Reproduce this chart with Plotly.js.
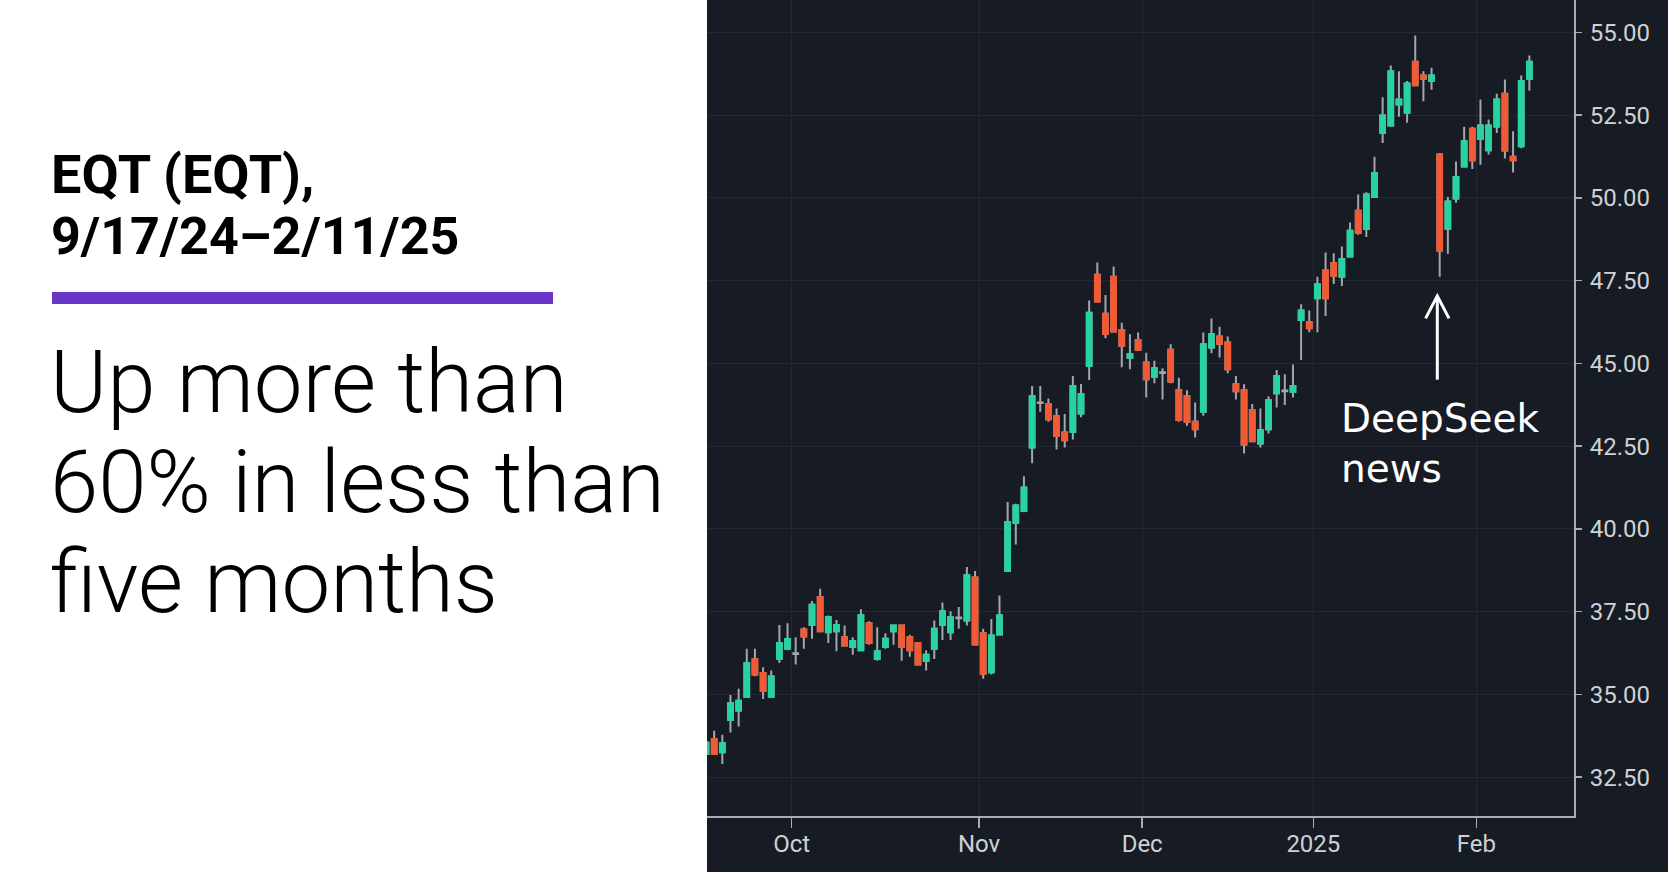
<!DOCTYPE html>
<html>
<head>
<meta charset="utf-8">
<script src="https://cdn.plot.ly/plotly-3.0.1.min.js"></script>
<style>
html,body{margin:0;padding:0;background:#ffffff;overflow:hidden}
#chart{width:1668px;height:872px}
</style>
</head>
<body>
<div id="chart"></div>
<script>
// ---------- data ----------
const dates = [
'2024-09-16','2024-09-17','2024-09-18','2024-09-19','2024-09-20','2024-09-23','2024-09-24','2024-09-25','2024-09-26','2024-09-27','2024-09-30',
'2024-10-01','2024-10-02','2024-10-03','2024-10-04','2024-10-07','2024-10-08','2024-10-09','2024-10-10','2024-10-11','2024-10-14','2024-10-15','2024-10-16','2024-10-17','2024-10-18','2024-10-21','2024-10-22','2024-10-23','2024-10-24','2024-10-25','2024-10-28','2024-10-29','2024-10-30','2024-10-31',
'2024-11-01','2024-11-04','2024-11-05','2024-11-06','2024-11-07','2024-11-08','2024-11-11','2024-11-12','2024-11-13','2024-11-14','2024-11-15','2024-11-18','2024-11-19','2024-11-20','2024-11-21','2024-11-22','2024-11-25','2024-11-26','2024-11-27','2024-11-29',
'2024-12-02','2024-12-03','2024-12-04','2024-12-05','2024-12-06','2024-12-09','2024-12-10','2024-12-11','2024-12-12','2024-12-13','2024-12-16','2024-12-17','2024-12-18','2024-12-19','2024-12-20','2024-12-23','2024-12-24','2024-12-26','2024-12-27','2024-12-30','2024-12-31',
'2025-01-02','2025-01-03','2025-01-06','2025-01-07','2025-01-08','2025-01-10','2025-01-13','2025-01-14','2025-01-15','2025-01-16','2025-01-17','2025-01-21','2025-01-22','2025-01-23','2025-01-24','2025-01-27','2025-01-28','2025-01-29','2025-01-30','2025-01-31',
'2025-02-03','2025-02-04','2025-02-05','2025-02-06','2025-02-07','2025-02-10','2025-02-11'
];
const openP = [
33.20,33.65,33.25,34.23,34.51,34.93,36.06,35.65,34.93,36.07,36.38,
36.22,36.96,37.10,37.94,36.88,36.91,36.73,36.43,36.33,37.15,36.07,36.43,36.91,37.08,36.73,36.55,36.02,36.38,37.10,36.88,37.30,37.23,38.53,
36.85,35.67,36.81,38.73,40.18,40.54,42.46,43.80,43.77,43.41,42.91,42.93,43.49,44.92,47.68,46.50,47.62,46.01,45.17,45.71,
45.03,44.60,44.71,45.41,44.19,44.01,43.24,43.54,45.48,45.81,45.63,44.37,44.19,43.59,42.58,43.01,44.10,44.16,44.14,46.31,46.24,
46.97,47.81,48.03,47.62,48.23,49.61,49.06,50.03,51.96,52.19,52.82,52.57,54.11,53.70,53.53,51.31,49.07,49.98,50.95,52.09,
51.79,51.44,52.16,53.15,51.24,51.56,53.60
];
const highP = [
33.70,33.90,33.78,34.98,35.17,36.38,36.38,35.82,35.72,37.10,37.15,
36.73,37.03,37.82,38.19,37.38,37.25,37.08,36.73,37.57,37.21,37.03,36.85,37.10,37.11,36.80,36.57,36.33,37.23,37.78,37.51,37.64,38.85,38.73,
36.98,37.28,37.99,40.81,40.76,41.59,44.32,44.32,43.94,43.64,43.47,44.62,44.38,46.90,48.05,47.07,47.93,46.23,45.88,45.93,
45.32,45.08,44.85,45.58,44.57,44.19,43.82,45.93,46.36,46.11,45.81,44.62,44.37,43.77,43.64,44.01,44.80,44.67,44.97,46.79,46.60,
47.62,48.35,48.33,48.53,49.26,50.10,50.17,51.24,53.04,54.00,53.83,53.53,54.91,53.83,53.93,51.36,50.03,51.10,52.15,52.15,
52.97,52.37,53.15,53.58,52.01,53.70,54.30
];
const lowP = [
33.10,33.18,32.90,33.85,34.03,34.90,35.55,34.86,34.90,35.95,36.33,
35.90,36.38,36.68,36.88,36.55,36.30,36.45,36.20,36.30,36.50,36.02,36.38,36.50,36.02,36.14,35.88,35.72,36.07,36.64,36.64,36.98,37.08,36.48,
35.47,35.60,36.78,38.70,39.53,40.50,41.98,43.54,43.24,42.40,42.46,42.70,43.37,44.50,46.85,45.76,45.93,44.88,44.82,45.38,
43.97,44.40,43.91,44.40,43.24,43.12,42.76,43.42,45.31,45.18,44.70,43.91,42.28,42.62,42.46,42.88,43.67,43.74,43.97,45.10,45.94,
45.94,46.43,47.40,47.34,48.20,48.89,48.82,50.00,51.66,52.15,52.45,52.27,53.38,52.92,53.27,47.62,48.31,49.85,50.92,50.87,
51.00,51.31,51.96,51.19,50.77,51.50,53.24
];
const closeP = [
33.55,33.20,33.53,34.73,34.81,35.94,35.60,35.11,35.54,36.55,36.67,
36.24,36.75,37.71,36.91,37.33,37.10,36.48,36.61,37.39,36.55,36.30,36.68,37.08,36.43,36.33,35.90,36.20,36.98,37.51,37.33,37.32,38.60,36.51,
35.62,36.78,37.39,40.21,40.71,41.25,44.01,43.82,43.31,42.81,42.68,44.32,44.07,46.53,46.87,45.89,45.96,45.53,45.28,45.41,
44.52,44.85,44.73,44.45,43.29,43.24,43.01,45.58,45.88,45.59,44.82,44.16,42.55,42.65,42.98,43.89,44.62,44.18,44.32,46.60,46.06,
47.39,46.97,47.65,48.15,49.01,48.94,50.10,50.75,52.49,53.83,52.97,53.46,53.40,53.60,53.70,48.41,49.89,50.63,51.71,51.14,
52.19,52.19,52.97,51.43,51.14,53.53,54.11
];
const tickDates  = ['2024-10-01','2024-11-01','2024-12-02','2025-01-02','2025-02-03'];
const tickLabels = ['Oct','Nov','Dec','2025','Feb'];
const yTicks = [32.5,35,37.5,40,42.5,45,47.5,50,52.5,55];
const eventDate = '2025-01-27';
const eventLines = ['DeepSeek','news'];
const headline = ['EQT (EQT),','9/17/24\u20132/11/25'];
const subhead  = ['Up more than','60% in less than','five months'];

// ---------- styling ----------
const BG = '#171b24', GRID = '#232834', AXIS = '#a9acb2', TXT = '#cfd1d5';
const UP = '#27d3a0', DOWN = '#f15a33', WICK = '#a3a6ac';
const L = 707, R = 94, T = 0, B = 56, FW = 1668, FH = 872;
const W = FW - L - R, H = FH - T - B;
const px2x = p => (p - L) / W;
const py2y = p => 1 - (p - T) / H;

const idx = dates.map((d, i) => i);
const dojiTol = 0.05;
const bodyI = idx.filter(i => Math.abs(closeP[i] - openP[i]) >= dojiTol);

const wickTrace = {
  type: 'candlestick', x: idx, open: openP, high: highP, low: lowP, close: closeP,
  increasing: {line: {color: WICK, width: 2}, fillcolor: WICK},
  decreasing: {line: {color: WICK, width: 2}, fillcolor: WICK},
  whiskerwidth: 0, hoverinfo: 'skip', showlegend: false
};
const bodyTrace = {
  type: 'candlestick',
  x: bodyI.map(i => idx[i]),
  open: bodyI.map(i => openP[i]),
  close: bodyI.map(i => closeP[i]),
  high: bodyI.map(i => Math.max(openP[i], closeP[i])),
  low: bodyI.map(i => Math.min(openP[i], closeP[i])),
  increasing: {line: {color: UP, width: 2}, fillcolor: UP},
  decreasing: {line: {color: DOWN, width: 2}, fillcolor: DOWN},
  whiskerwidth: 0, showlegend: false
};

const ev = dates.indexOf(eventDate);
const evLow = lowP[ev];

const headSizes = [54, 52];
const annotations = [];
headline.forEach((t, k) => annotations.push({
  xref: 'paper', yref: 'paper', x: px2x(50), y: py2y(174 + k * 62),
  xanchor: 'left', yanchor: 'middle', showarrow: false, borderpad: 0,
  text: t, font: {family: 'Roboto', size: headSizes[k], weight: 700, color: '#000000'}
}));
subhead.forEach((t, k) => annotations.push({
  xref: 'paper', yref: 'paper', x: px2x(49), y: py2y(382 + k * 100),
  xanchor: 'left', yanchor: 'middle', showarrow: false, borderpad: 0,
  text: t, font: {family: 'Roboto', size: 87, weight: 300, color: '#000000'}
}));
eventLines.forEach((t, k) => annotations.push({
  xref: 'x', yref: 'y', x: ev, y: evLow, xshift: -100, yshift: -141.5 - k * 50.5,
  xanchor: 'left', yanchor: 'middle', showarrow: false, borderpad: 0,
  text: t, font: {family: 'DejaVu Sans', size: 39, color: '#ffffff'}
}));

const shapes = [
  {type: 'rect', xref: 'paper', yref: 'paper', x0: px2x(-5), x1: px2x(L), y0: py2y(FH + 5), y1: py2y(-5),
   fillcolor: '#ffffff', line: {width: 0}, layer: 'below'},
  {type: 'rect', xref: 'paper', yref: 'paper', x0: px2x(52), x1: px2x(553), y0: py2y(304), y1: py2y(292),
   fillcolor: '#6a35c9', line: {width: 0}, layer: 'below'},
  {type: 'line', xref: 'x', yref: 'y', xsizemode: 'pixel', ysizemode: 'pixel',
   xanchor: ev, yanchor: evLow, x0: -2.4, x1: -2.4, y0: -19, y1: -103,
   line: {color: '#ffffff', width: 3}},
  {type: 'path', xref: 'x', yref: 'y', xsizemode: 'pixel', ysizemode: 'pixel',
   xanchor: ev, yanchor: evLow, path: 'M -14.1,-41.7 L -2.4,-19.2 L 9.3,-41.7',
   line: {color: '#ffffff', width: 3}}
];

const layout = {
  width: FW, height: FH,
  margin: {l: L, r: R, t: T, b: B, pad: 0},
  paper_bgcolor: BG, plot_bgcolor: BG,
  showlegend: false, dragmode: false,
  boxgap: 0.42, boxgroupgap: 0, boxmode: 'overlay',
  xaxis: {
    type: 'linear', range: [0.12, 0.12 + W / 8.152],
    tickmode: 'array', tickvals: tickDates.map(d => dates.indexOf(d) - 0.5), ticktext: tickLabels,
    showgrid: true, gridcolor: GRID, gridwidth: 1, zeroline: false,
    showline: true, linecolor: AXIS, linewidth: 2,
    ticks: 'outside', ticklen: 10, tickwidth: 1.5, tickcolor: AXIS,
    tickfont: {family: 'Roboto', size: 24, color: TXT},
    ticklabelstandoff: -5,
    rangeslider: {visible: false}, fixedrange: true
  },
  yaxis: {
    side: 'right', range: [31.326, 55.979],
    tickmode: 'array', tickvals: yTicks, tickformat: '.2f',
    showgrid: true, gridcolor: GRID, gridwidth: 1, zeroline: false,
    showline: true, linecolor: AXIS, linewidth: 2,
    ticks: 'outside', ticklen: 6, tickwidth: 1.5, tickcolor: AXIS,
    tickfont: {family: 'Roboto', size: 24, color: TXT},
    ticklabelstandoff: 3, fixedrange: true
  },
  annotations: annotations,
  shapes: shapes
};

Plotly.newPlot('chart', [wickTrace, bodyTrace], layout, {staticPlot: true, displayModeBar: false});
</script>
</body>
</html>
